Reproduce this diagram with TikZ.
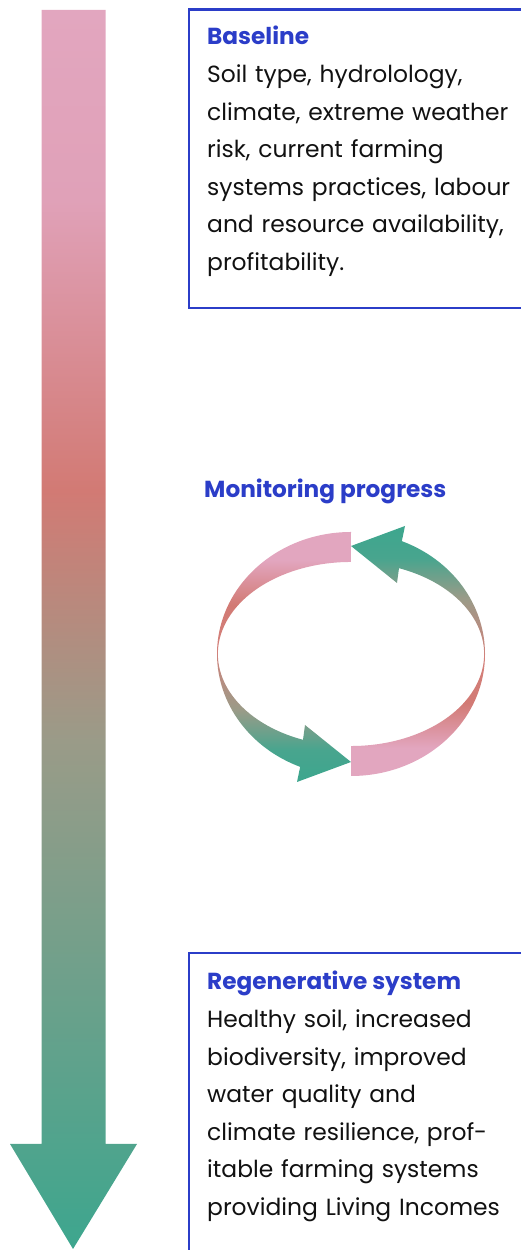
\documentclass[tikz,border=0pt]{standalone}
\usepackage{fontspec}
\setmainfont{Poppins}
\definecolor{tpink}{HTML}{E2A6BF}
\definecolor{tpinkb}{HTML}{E0A1B8}
\definecolor{tred}{HTML}{D27A74}
\definecolor{tredb}{HTML}{D3807A}
\definecolor{tgray}{HTML}{9A9B88}
\definecolor{tgreen}{HTML}{3DA68E}
\definecolor{tgreenb}{HTML}{48A58E}
\definecolor{tblue}{HTML}{2B3DC8}
\definecolor{ttext}{HTML}{111111}
\pgfdeclareverticalshading{bigshade}{100bp}{color(0bp)=(tgreen); color(25bp)=(tgreen); color(45.5bp)=(tgray); color(55.6bp)=(tred); color(67.3bp)=(tpinkb); color(75bp)=(tpink); color(100bp)=(tpink)}
\pgfdeclareverticalshading{smallshade}{100bp}{color(0bp)=(tgreen); color(25bp)=(tgreen); color(31.4bp)=(tgreenb); color(39.4bp)=(tgray); color(51.4bp)=(tredb); color(60.4bp)=(tred); color(69.4bp)=(tpink); color(75bp)=(tpink); color(100bp)=(tpink)}
\tikzset{
  titletext/.style={font=\fontsize{23.2}{37.5}\selectfont\bfseries, text=tblue, inner sep=0pt, anchor=base west},
  bodytext/.style={font=\fontsize{23.4}{37.5}\selectfont, text=ttext, inner sep=0pt, anchor=base west, text width=330pt, align=left},
  boxline/.style={draw=tblue, line width=2.4pt},
}
\begin{document}
\begin{tikzpicture}[x=1pt,y=1pt]
\useasboundingbox (0,0) rectangle (521,1250);
% big arrow
\shade[shading=bigshade] (41.5,1240) -- (105.5,1240) -- (105.5,106) -- (137,106) -- (73,1) -- (10,106) -- (41.5,106) -- cycle;
% boxes
\draw[boxline] (530,1240.5) -- (189,1240.5) -- (189,942) -- (530,942);
\draw[boxline] (530,297) -- (189,297) -- (189,-10);
% texts
\node[titletext] (basetitle) at (207,1205) {Baseline};
\node[bodytext] (basebody) at (207,1167) {Soil type, hydrolology,\\climate, extreme weather\\risk, current farming\\systems practices, labour\\and resource availability,\\profitability.};
\node[titletext] (montitle) at (204,752) {Monitoring progress};
\node[titletext] (regtitle) at (207,260) {Regenerative system};
\node[bodytext] (regbody) at (207,222) {Healthy soil, increased\\biodiversity, improved\\water quality and\\climate resilience, prof-\\itable farming systems\\providing Living Incomes};
% cycle arrows
\shade[shading=smallshade] (351,718) arc[start angle=90, end angle=247.7, x radius=134, y radius=122]
  -- (297,468) -- (351,488) -- (305,525) -- (303,510.2)
  arc[start angle=248.9, end angle=90, x radius=133, y radius=92] -- cycle;
\shade[shading=smallshade, shading angle=180] (351,474) arc[start angle=270, end angle=427.7, x radius=134, y radius=122]
  -- (405,724) -- (351,704) -- (397,667) -- (399,681.8)
  arc[start angle=428.9, end angle=270, x radius=133, y radius=92] -- cycle;
\end{tikzpicture}
\end{document}
